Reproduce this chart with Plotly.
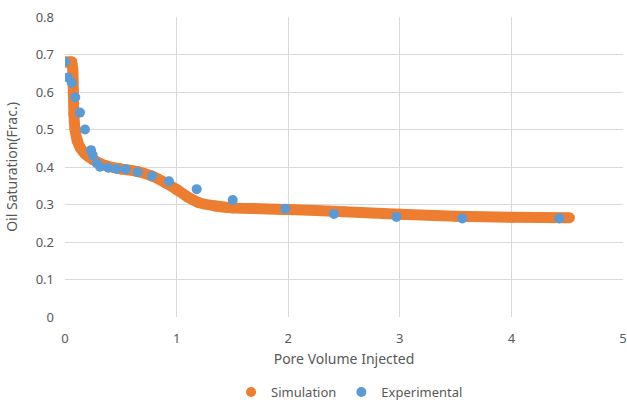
import plotly.graph_objects as go

# Simulation curve
sim_x = [0.0, 0.03, 0.06, 0.07, 0.075, 0.08, 0.09, 0.11, 0.14, 0.18, 0.25, 0.35, 0.5, 0.65,
         0.78, 0.9, 1.0, 1.1, 1.2, 1.35, 1.5, 2.0, 2.5, 3.0, 3.5, 4.0, 4.52]
sim_y = [0.68, 0.68, 0.68, 0.66, 0.60, 0.54, 0.50, 0.47, 0.45, 0.435, 0.42, 0.405, 0.395, 0.388,
         0.376, 0.358, 0.340, 0.320, 0.305, 0.296, 0.291, 0.287, 0.281, 0.274, 0.269, 0.266, 0.265]

# Experimental points
exp_x = [0.0, 0.024, 0.06, 0.092, 0.134, 0.179, 0.233, 0.248, 0.284, 0.314, 0.388, 0.463,
         0.547, 0.651, 0.78, 0.932, 1.18, 1.503, 1.974, 2.41, 2.97, 3.56, 4.43]
exp_y = [0.68, 0.639, 0.625, 0.586, 0.545, 0.50, 0.445, 0.432, 0.41, 0.401, 0.398, 0.395,
         0.394, 0.386, 0.376, 0.362, 0.341, 0.312, 0.289, 0.275, 0.267, 0.263, 0.263]

ORANGE = "#ED7D31"
BLUE = "#5B9BD5"
FONT = "Noto Sans"

fig = go.Figure()
fig.add_trace(go.Scatter(x=sim_x, y=sim_y, mode="lines+markers", name="Simulation",
                         line=dict(color=ORANGE, width=11, shape="spline", smoothing=0.6),
                         marker=dict(color=ORANGE, size=11), showlegend=False,
                         legendgroup="sim", hoverinfo="x+y"))
fig.add_trace(go.Scatter(x=[None], y=[None], mode="markers", name="Simulation",
                         marker=dict(color=ORANGE, size=10), legendgroup="sim"))
fig.add_trace(go.Scatter(x=exp_x, y=exp_y, mode="markers", name="Experimental",
                         marker=dict(color=BLUE, size=10)))

fig.update_layout(
    width=627, height=400,
    margin=dict(l=65, r=4, t=17, b=83, autoexpand=False),
    paper_bgcolor="white", plot_bgcolor="white",
    font=dict(family=FONT, size=13, color="#595959"),
    showlegend=True,
    legend=dict(orientation="h", x=0.51, xanchor="center", y=-0.25, yanchor="middle",
                font=dict(size=13, color="#595959"), itemwidth=30, tracegroupgap=0),
    xaxis=dict(range=[0, 5], dtick=1, showgrid=True, gridcolor="#D9D9D9", gridwidth=1,
               zeroline=False, showline=False, ticks="", tickfont=dict(size=13),
               automargin=False, ticklabelstandoff=12,
               title=dict(text="Pore Volume Injected", font=dict(size=14), standoff=8)),
    yaxis=dict(range=[0, 0.8], dtick=0.1, showgrid=True, gridcolor="#D9D9D9", gridwidth=1,
               zeroline=False, showline=False, ticks="", tickfont=dict(size=13),
               automargin=False, ticklabelstandoff=10,
               title=dict(text="Oil Saturation(Frac.)", font=dict(size=14), standoff=14)),
)

fig.write_html("out.html", config={"displayModeBar": False},
               post_script="document.body.style.margin='0';")
